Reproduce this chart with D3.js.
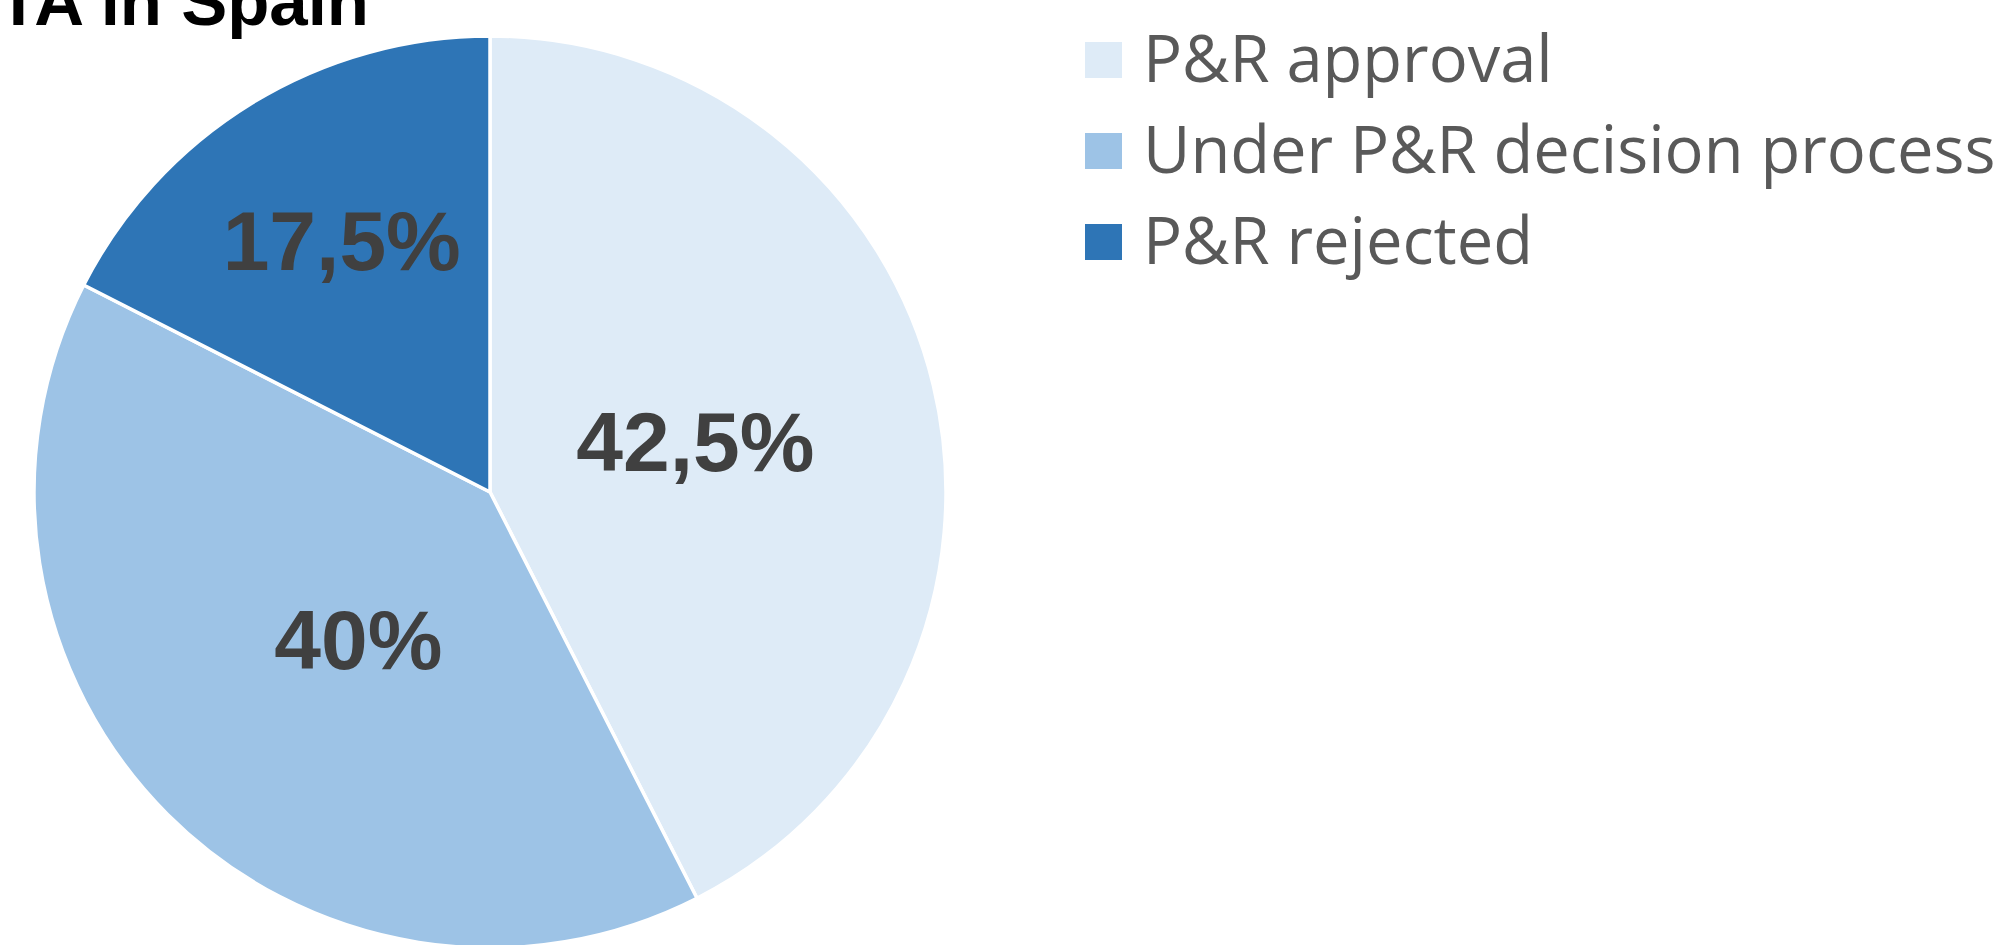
<!DOCTYPE html>
<html>
<head>
<meta charset="utf-8">
<script src="https://cdn.jsdelivr.net/npm/d3@7"></script>
<style>
  body { margin: 0; background: #fff; }
  svg { display: block; }
</style>
</head>
<body>
<div id="chart"></div>
<script>
// data
const categories = ["P&R approval", "Under P&R decision process", "P&R rejected"];
const shares = [42.5, 40, 17.5];
const labels = ["42,5%", "40%", "17,5%"];
const colours = ["#DEEBF7", "#9DC3E6", "#2E75B6"];

const width = 1998;
const height = 945;

const svg = d3.select("#chart")
  .append("svg")
  .attr("width", width)
  .attr("height", height);

// title, cut off at the top-left in the original
svg.append("text")
  .attr("x", 369)
  .attr("y", 25)
  .attr("text-anchor", "end")
  .style("font-family", "'Liberation Sans', Arial, sans-serif")
  .style("font-weight", "bold")
  .style("font-size", "69px")
  .attr("fill", "#000")
  .text("HTA in Spain");

// pie
const cx = 490, cy = 492, radius = 456;
const g = svg.append("g").attr("transform", `translate(${cx},${cy})`);

const pie = d3.pie().sort(null).value(d => d);
const arcs = pie(shares);

const arc = d3.arc().innerRadius(0).outerRadius(radius);

g.selectAll("path")
  .data(arcs)
  .join("path")
  .attr("d", arc)
  .attr("fill", (d, i) => colours[i])
  .attr("stroke", "#fff")
  .attr("stroke-width", 3.5)
  .attr("stroke-linejoin", "round");

// labels sit at different distances from the centre, like Excel's best fit
const labelRadius = [0.463, 0.435, 0.638];
const labelShift = [0, -0.06, 0.015]; // small angle tweak (radians)

g.selectAll("text.lbl")
  .data(arcs)
  .join("text")
  .attr("class", "lbl")
  .attr("transform", (d, i) => {
    const a = (d.startAngle + d.endAngle) / 2 + labelShift[i];
    const r = radius * labelRadius[i];
    return `translate(${r * Math.sin(a)},${-r * Math.cos(a)})`;
  })
  .attr("dy", "0.34em")
  .attr("text-anchor", "middle")
  .style("font-family", "'Liberation Sans', Arial, sans-serif")
  .style("font-weight", "bold")
  .style("font-size", "84px")
  .attr("fill", "#404040")
  .text((d, i) => labels[i]);

// legend
const legend = svg.append("g").attr("transform", "translate(1085,42)");
const rowH = 91;

const item = legend.selectAll("g")
  .data(categories)
  .join("g")
  .attr("transform", (d, i) => `translate(0,${i * rowH})`);

item.append("rect")
  .attr("width", 37)
  .attr("height", 36)
  .attr("fill", (d, i) => colours[i]);

item.append("text")
  .attr("x", 58)
  .attr("y", 40)
  .style("font-family", "'Open Sans', sans-serif")
  .style("font-size", "65px")
  .attr("fill", "#595959")
  .text(d => d);
</script>
</body>
</html>
